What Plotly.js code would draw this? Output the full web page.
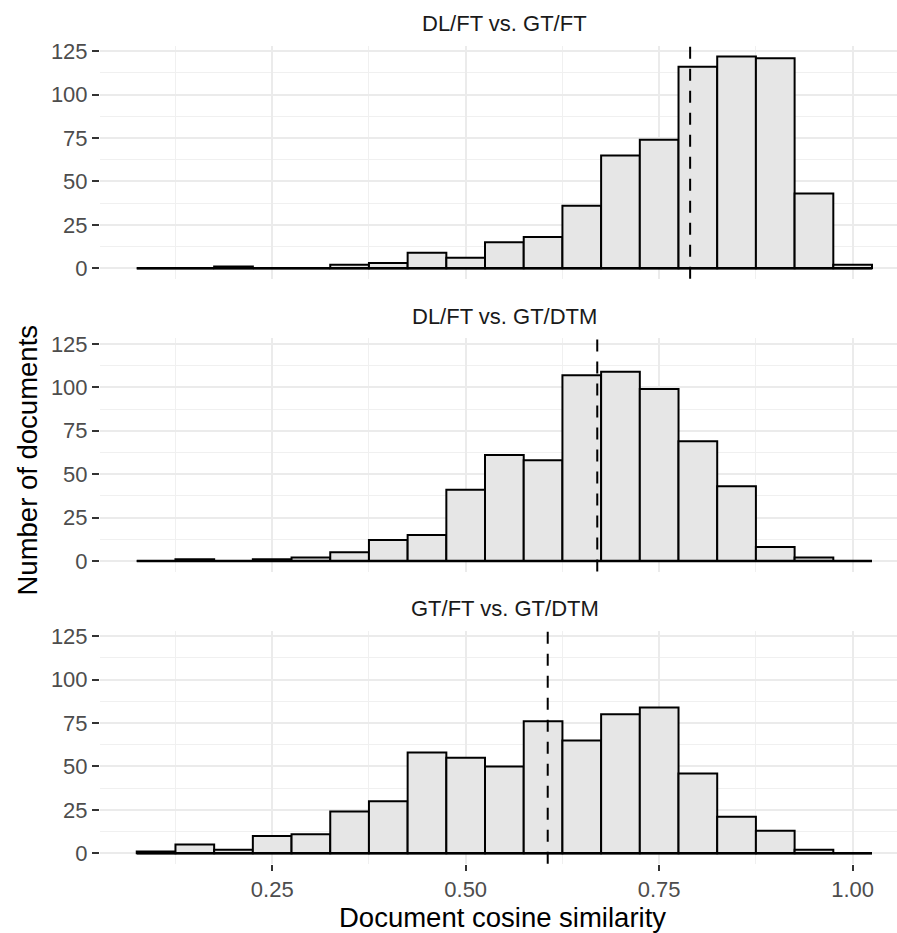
<!DOCTYPE html>
<html><head><meta charset="utf-8">
<script src="https://cdn.plot.ly/plotly-3.0.1.min.js"></script>
<style>html,body{margin:0;padding:0;background:#fff}#chart{width:897px;height:933px}</style>
</head><body><div id="chart"></div>
<script>
// ---- data ----
const binCenters = [0.10,0.15,0.20,0.25,0.30,0.35,0.40,0.45,0.50,0.55,0.60,0.65,0.70,0.75,0.80,0.85,0.90,0.95,1.00];
const binWidth = 0.05;
const panelTitles = ["DL/FT vs. GT/FT", "DL/FT vs. GT/DTM", "GT/FT vs. GT/DTM"];
const countsDLFT_GTFT  = [0,0,1,0,0,2,3,9,6,15,18,36,65,74,116,122,121,43,2];
const countsDLFT_GTDTM = [0,1,0,1,2,5,12,15,41,61,58,107,109,99,69,43,8,2,0];
const countsGTFT_GTDTM = [1,5,2,10,11,24,30,58,55,50,76,65,80,84,46,21,13,2,0];
const meanValues = [0.790, 0.670, 0.606];
const xTickVals = [0.25, 0.50, 0.75, 1.00];
const xTickText = ["0.25", "0.50", "0.75", "1.00"];
const yTickVals = [0, 25, 50, 75, 100, 125];
const yTickText = ["0", "25", "50", "75", "100", "125"];
const xTitle = "Document cosine similarity";
const yTitle = "Number of documents";

// ---- layout helpers ----
const W = 897, H = 933;
const FONT = "Liberation Sans, Arial, Helvetica, sans-serif";
const panelCounts = [countsDLFT_GTFT, countsDLFT_GTDTM, countsGTFT_GTDTM];
const yDomains = [[0.7011, 0.9509], [0.3874, 0.6372], [0.0741, 0.3239]];
const titleY = [1 - 23.5 / H, 1 - 316.5 / H, 1 - 608.8 / H];
const xDomain = [100 / W, 1];
const xRange = [0.0275, 1.0573];
const yRange = [-6.1, 128.1];

const traces = [];
const shapes = [];
const annotations = [];
const layout = {
  width: W, height: H,
  margin: {l: 0, r: 0, t: 0, b: 0},
  paper_bgcolor: "#ffffff", plot_bgcolor: "#ffffff",
  showlegend: false,
  bargap: 0,
  font: {family: FONT, color: "#4d4d4d", size: 22},
};

const edgeLo = binCenters[0] - binWidth / 2;
const edgeHi = binCenters[binCenters.length - 1] + binWidth / 2;

panelCounts.forEach((counts, i) => {
  const k = i === 0 ? "" : String(i + 1);
  const xa = "x" + k, ya = "y" + k;
  traces.push({
    type: "bar", x: binCenters, y: counts, width: binWidth,
    xaxis: xa, yaxis: ya,
    marker: {color: "#e6e6e6", line: {color: "#000000", width: 2}},
    hoverinfo: "skip"
  });
  traces.push({
    type: "scatter", mode: "lines", x: [edgeLo, edgeHi], y: [0, 0],
    xaxis: xa, yaxis: ya,
    line: {color: "#000000", width: 2.5}, hoverinfo: "skip"
  });
  const isBottom = i === panelCounts.length - 1;
  layout["xaxis" + k] = {
    domain: xDomain, range: xRange, anchor: ya,
    tickvals: xTickVals, ticktext: xTickText,
    showticklabels: isBottom,
    ticks: isBottom ? "outside" : "",
    ticklen: 6, tickwidth: 2, tickcolor: "#333333",
    showgrid: true, gridcolor: "#ebebeb", gridwidth: 2,
    minor: {dtick: 0.125, tick0: 0.125, showgrid: true, gridcolor: "#f0f0f0", gridwidth: 1, ticks: ""},
    zeroline: false, showline: false,
    tickfont: {family: FONT, size: 22, color: "#4d4d4d"},
    fixedrange: true
  };
  layout["yaxis" + k] = {
    domain: yDomains[i], range: yRange, anchor: xa,
    tickvals: yTickVals, ticktext: yTickText,
    ticks: "outside", ticklen: 7, tickwidth: 2, tickcolor: "#333333",
    showgrid: true, gridcolor: "#ebebeb", gridwidth: 2,
    minor: {dtick: 12.5, tick0: 12.5, showgrid: true, gridcolor: "#f0f0f0", gridwidth: 1, ticks: ""},
    zeroline: false, showline: false,
    tickfont: {family: FONT, size: 22, color: "#4d4d4d"},
    fixedrange: true
  };
  shapes.push({
    type: "line", xref: xa, yref: ya + " domain",
    x0: meanValues[i], x1: meanValues[i], y0: 0, y1: 1,
    line: {color: "#000000", width: 2, dash: "12px,10px"}
  });
  annotations.push({
    text: panelTitles[i], xref: "paper", yref: "paper",
    x: (100 + 909) / 2 / W, y: titleY[i], xanchor: "center", yanchor: "middle",
    showarrow: false, font: {family: FONT, size: 22, color: "#1a1a1a"}
  });
});

annotations.push({
  text: xTitle, xref: "paper", yref: "paper",
  x: 502 / W, y: 1 - 917 / H, xanchor: "center", yanchor: "middle",
  showarrow: false, font: {family: FONT, size: 27.5, color: "#000000"}
});
annotations.push({
  text: yTitle, xref: "paper", yref: "paper", textangle: -90,
  x: 26.5 / W, y: 1 - 460 / H, xanchor: "center", yanchor: "middle",
  showarrow: false, font: {family: FONT, size: 27.5, color: "#000000"}
});

layout.shapes = shapes;
layout.annotations = annotations;

Plotly.newPlot("chart", traces, layout, {displayModeBar: false, staticPlot: true});
</script>
</body></html>
